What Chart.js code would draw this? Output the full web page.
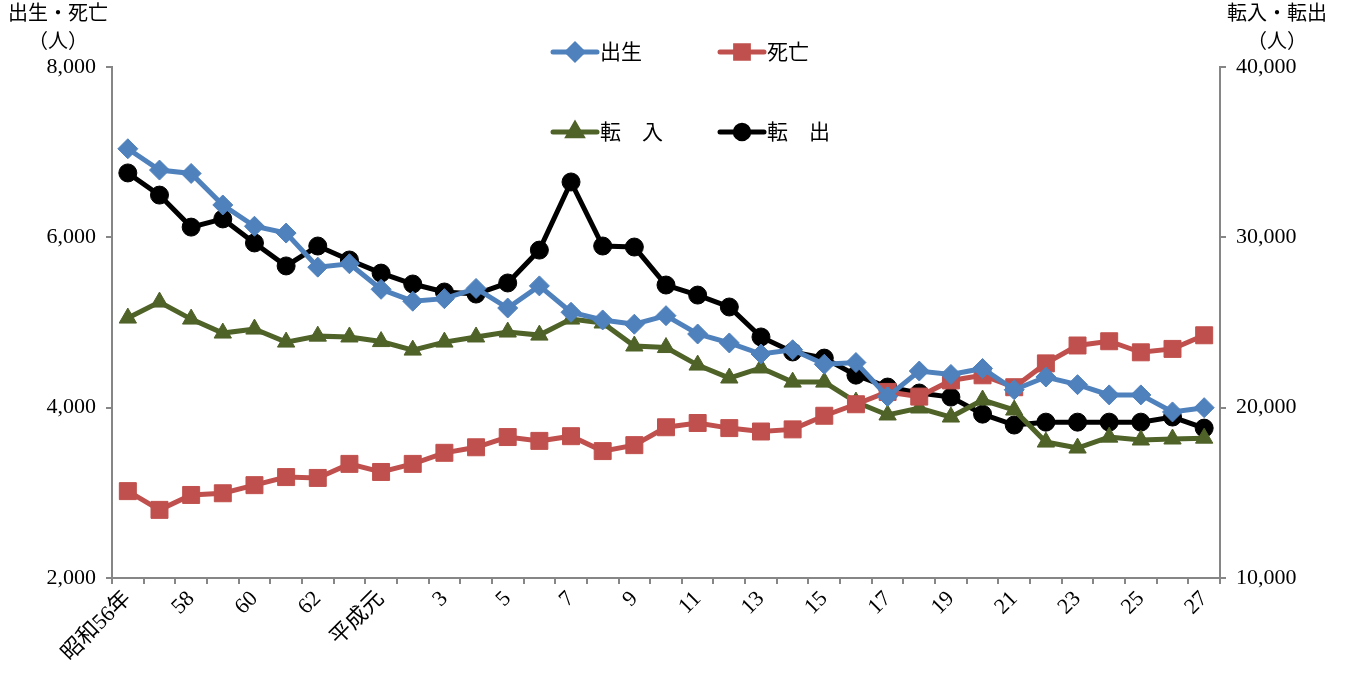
<!DOCTYPE html>
<html>
<head>
<meta charset="utf-8">
<script src="https://cdn.jsdelivr.net/npm/chart.js"></script>
<style>
  body { margin: 0; background: #fff; }
  #wrap { width: 1345px; height: 675px; position: relative; }
</style>
</head>
<body>
<div id="wrap"><canvas id="chart"></canvas></div>
<script>
// 年次（昭和56年〜平成27年）
const years = ['昭和56年', '57', '58', '59', '60', '61', '62', '63', '平成元',
  '2', '3', '4', '5', '6', '7', '8', '9', '10', '11', '12', '13', '14', '15',
  '16', '17', '18', '19', '20', '21', '22', '23', '24', '25', '26', '27'];

// 出生・死亡（左軸）
const births = [7040, 6790, 6750, 6380, 6130, 6050, 5650, 5690, 5390, 5250,
  5280, 5400, 5170, 5430, 5120, 5030, 4980, 5080, 4865, 4760, 4630, 4680,
  4510, 4530, 4130, 4430, 4390, 4460, 4210, 4360, 4270, 4150, 4150, 3950, 4000];
const deaths = [3020, 2800, 2975, 2995, 3090, 3185, 3175, 3340, 3245, 3340,
  3470, 3535, 3655, 3610, 3665, 3490, 3560, 3770, 3820, 3760, 3720, 3745,
  3905, 4040, 4185, 4130, 4320, 4380, 4240, 4520, 4730, 4780, 4650, 4690, 4850];

// 転入・転出（右軸）
const moveIn = [25260, 26200, 25200, 24380, 24615, 23850, 24200, 24150, 23880,
  23380, 23850, 24150, 24440, 24260, 25200, 24970, 23620, 23530, 22500, 21740,
  22330, 21500, 21500, 20330, 19570, 19980, 19450, 20450, 19860, 17980, 17630,
  18270, 18100, 18160, 18210];
const moveOut = [33780, 32480, 30600, 31080, 29670, 28320, 29490, 28670, 27900,
  27260, 26790, 26670, 27320, 29250, 33250, 29490, 29430, 27200, 26610, 25910,
  24150, 23270, 22910, 21910, 21210, 20860, 20620, 19620, 18980, 19150, 19150,
  19150, 19150, 19450, 18800];

const leftTicks = { min: 2000, max: 8000, step: 2000 };
const rightTicks = { min: 10000, max: 40000, step: 10000 };

const FONT = "'Liberation Serif', 'Noto Sans CJK JP', serif";
const AXIS_GRAY = '#868686';

const fmt = v => v.toLocaleString('en-US');

function line(label, data, color, style, radius, axis) {
  return {
    label: label,
    data: data,
    yAxisID: axis,
    borderColor: color,
    backgroundColor: color,
    borderWidth: 5,
    pointStyle: style,
    pointRadius: radius,
    pointHoverRadius: radius,
    pointBorderWidth: 1,
    pointBorderColor: color,
    tension: 0
  };
}

// 凡例（2行2列、グラフ内上部）
const legendPlugin = {
  id: 'gridLegend',
  afterDraw(chart) {
    const ctx = chart.ctx;
    const spots = [[553, 52], [720, 52], [553, 132], [720, 132]];
    chart.data.datasets.forEach((ds, i) => {
      const [x, y] = spots[i];
      ctx.save();
      ctx.strokeStyle = ds.borderColor;
      ctx.lineWidth = 5;
      ctx.lineCap = 'round';
      ctx.beginPath();
      ctx.moveTo(x, y);
      ctx.lineTo(x + 44, y);
      ctx.stroke();
      Chart.helpers.drawPoint(ctx, {
        pointStyle: ds.pointStyle,
        radius: ds.pointRadius * 0.75,
        rotation: 0,
        borderWidth: 1
      }, x + 22, y);
      ctx.fillStyle = ds.borderColor;
      ctx.fill();
      ctx.fillStyle = '#000';
      ctx.font = '21px ' + FONT;
      ctx.textBaseline = 'middle';
      ctx.fillText(ds.label, x + 47, y + 1);
      ctx.restore();
    });
  }
};

// 軸タイトル
const axisTitlePlugin = {
  id: 'axisTitles',
  afterDraw(chart) {
    const ctx = chart.ctx;
    ctx.save();
    ctx.fillStyle = '#000';
    ctx.font = '20px ' + FONT;
    ctx.textBaseline = 'middle';
    ctx.textAlign = 'center';
    ctx.fillText('出生・死亡', 58, 15);
    ctx.fillText('（人）', 58, 43);
    ctx.fillText('転入・転出', 1277, 15);
    ctx.fillText('（人）', 1277, 43);
    ctx.restore();
  }
};

new Chart(document.getElementById('chart'), {
  type: 'line',
  data: {
    labels: years,
    datasets: [
      line('出生', births, '#4F81BD', 'rectRot', 10, 'y'),
      line('死亡', deaths, '#C0504D', 'rect', 12, 'y'),
      line('転　入', moveIn, '#4F6228', 'triangle', 10, 'y2'),
      line('転　出', moveOut, '#000000', 'circle', 9, 'y2')
    ]
  },
  options: {
    responsive: true,
    maintainAspectRatio: false,
    animation: false,
    layout: { padding: { top: 67, left: 0, right: 0, bottom: 0 } },
    plugins: {
      legend: { display: false },
      tooltip: { enabled: false }
    },
    scales: {
      x: {
        offset: true,
        grid: {
          offset: true,
          drawOnChartArea: false,
          drawTicks: true,
          tickLength: 6,
          color: AXIS_GRAY,
          lineWidth: 2
        },
        border: { color: AXIS_GRAY, width: 2 },
        ticks: {
          autoSkip: false,
          minRotation: 45,
          maxRotation: 45,
          padding: 2,
          color: '#000',
          font: { family: FONT, size: 22 },
          callback: function (value, index) {
            return index % 2 === 0 ? this.getLabelForValue(value) : '';
          }
        },
        afterFit(scale) { scale.height = 97; }
      },
      y: {
        position: 'left',
        min: leftTicks.min,
        max: leftTicks.max,
        grid: {
          drawOnChartArea: false,
          tickLength: 6,
          color: AXIS_GRAY,
          lineWidth: 2
        },
        border: { color: AXIS_GRAY, width: 2 },
        ticks: {
          stepSize: leftTicks.step,
          padding: 10,
          color: '#000',
          font: { family: FONT, size: 22 },
          callback: v => fmt(v)
        },
        afterFit(scale) { scale.width = 112; }
      },
      y2: {
        position: 'right',
        min: rightTicks.min,
        max: rightTicks.max,
        grid: {
          drawOnChartArea: false,
          tickLength: 6,
          color: AXIS_GRAY,
          lineWidth: 2
        },
        border: { color: AXIS_GRAY, width: 2 },
        ticks: {
          stepSize: rightTicks.step,
          padding: 10,
          color: '#000',
          font: { family: FONT, size: 22 },
          callback: v => fmt(v)
        },
        afterFit(scale) { scale.width = 125; }
      }
    }
  },
  plugins: [legendPlugin, axisTitlePlugin]
});
</script>
</body>
</html>
